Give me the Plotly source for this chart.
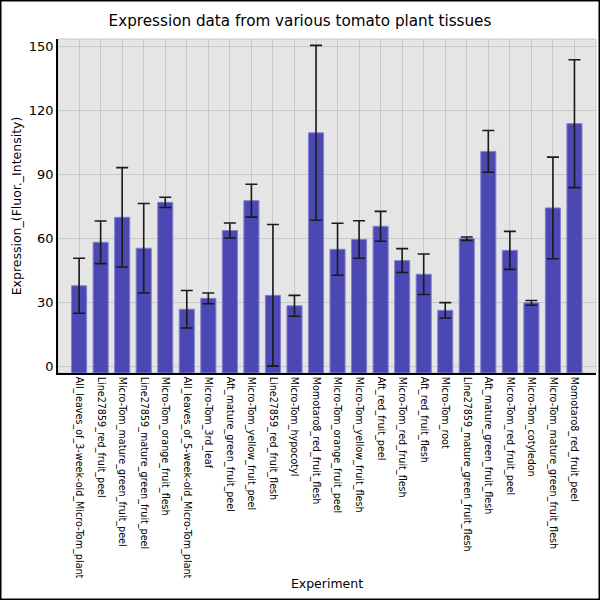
import plotly.graph_objects as go

categories = [
    "All_leaves_of_3-week-old_Micro-Tom_plant",
    "Line27859_red_fruit_peel",
    "Micro-Tom_mature_green_fruit_peel",
    "Line27859_mature_green_fruit_peel",
    "Micro-Tom_orange_fruit_flesh",
    "All_leaves_of_5-week-old_Micro-Tom_plant",
    "Micro-Tom_3rd_leaf",
    "Aft_mature_green_fruit_peel",
    "Micro-Tom_yellow_fruit_peel",
    "Line27859_red_fruit_flesh",
    "Micro-Tom_hypocotyl",
    "Momotaro8_red_fruit_flesh",
    "Micro-Tom_orange_fruit_peel",
    "Micro-Tom_yellow_fruit_flesh",
    "Aft_red_fruit_peel",
    "Micro-Tom_red_fruit_flesh",
    "Aft_red_fruit_flesh",
    "Micro-Tom_root",
    "Line27859_mature_green_fruit_flesh",
    "Aft_mature_green_fruit_flesh",
    "Micro-Tom_red_fruit_peel",
    "Micro-Tom_cotyledon",
    "Micro-Tom_mature_green_fruit_flesh",
    "Momotaro8_red_fruit_peel",
]
values = [37.8, 58.2, 69.9, 55.4, 76.9, 26.8, 31.9, 63.7, 77.7, 33.3, 28.4, 109.5,
          54.9, 59.5, 65.7, 49.6, 43.2, 26.3, 59.9, 100.8, 54.4, 29.8, 74.3, 113.8]
errors = [12.9, 10.0, 23.3, 21.0, 2.4, 8.8, 2.5, 3.5, 7.7, 33.2, 4.9, 41.0,
          12.2, 8.8, 7.0, 5.6, 9.5, 3.6, 0.8, 9.8, 8.9, 1.1, 23.8, 30.0]
y_ticks = [0, 30, 60, 90, 120, 150]
y_range = [-3.1, 153.5]

font = "DejaVu Sans"

fig = go.Figure()
fig.add_trace(go.Bar(
    x=categories,
    y=[v - y_range[0] for v in values],
    base=y_range[0],
    width=0.7,
    marker=dict(color="#4B47B3", line=dict(color="#8380CC", width=1)),
    error_y=dict(type="data", array=errors, color="#1a1a1a", thickness=1.6, width=6),
))

fig.update_layout(
    width=600, height=600,
    margin=dict(l=58, r=4, t=39, b=227),
    paper_bgcolor="white",
    plot_bgcolor="#E5E5E5",
    font=dict(family=font, color="#000000"),
    showlegend=False,
    bargap=0.3,
    title=dict(text="Expression data from various tomato plant tissues",
               x=0.5, xanchor="center", y=0.966, yanchor="middle",
               font=dict(family=font, size=15.2, color="#000")),
)
fig.update_xaxes(
    type="category",
    range=[-0.98, 24.0],
    tickangle=90,
    tickfont=dict(family=font, size=9.6),
    showgrid=True, gridcolor="#C8C8C8", gridwidth=1,
    showline=True, linecolor="#000", linewidth=1.5,
    ticks="", ticklen=0,
    title=dict(text="Experiment", font=dict(family=font, size=12.5), standoff=2),
    automargin=False,
)
fig.update_yaxes(
    range=y_range,
    tickvals=y_ticks,
    tickfont=dict(family=font, size=13),
    showgrid=True, gridcolor="#C8C8C8", gridwidth=1,
    zeroline=False,
    showline=True, linecolor="#000", linewidth=1.5,
    ticks="", ticklen=0,
    title=dict(text="Expression_(Fluor._Intensity)", font=dict(family=font, size=12.5), standoff=4),
    automargin=False,
)
# light border on top/right of plot area
fig.add_shape(type="rect", xref="paper", yref="paper", x0=0, x1=1, y0=0, y1=1,
              line=dict(color="#C8C8C8", width=1), layer="below")
# outer frame around the image
pw, ph = 538.0, 334.0
fig.add_shape(type="rect", xref="paper", yref="paper",
              x0=(-58 + 0.75) / pw, x1=(538 + 4 - 0.75) / pw,
              y0=(-227 + 0.75) / ph, y1=(334 + 39 - 0.75) / ph,
              line=dict(color="#000", width=1.5))

fig.write_html("out.html", config={"displayModeBar": False},
               post_script="document.body.style.margin='0';document.body.style.overflow='hidden';")
